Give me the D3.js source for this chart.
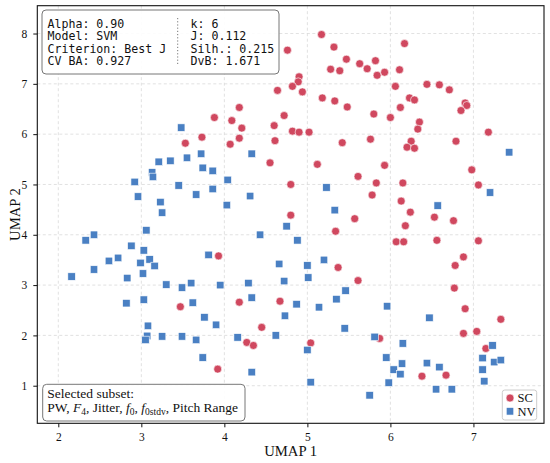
<!DOCTYPE html>
<html>
<head>
<meta charset="utf-8">
<script src="https://cdn.jsdelivr.net/npm/d3@7"></script>
<style>
  html, body { margin: 0; padding: 0; background: #fff; }
  svg { display: block; }
</style>
</head>
<body>
<svg></svg>
<script>
// Chart size and plot area
const width = 550;
const height = 463;
const margin = { top: 5.7, right: 6, bottom: 39.7, left: 37.3 };

// Data
const scPoints = [
  [3.53, 5.82], [3.73, 5.94], [3.88, 6.33], [3.47, 2.57], [5.17, 7.98], [5.32, 7.73],
  [4.76, 7.67], [5.47, 7.49], [5.63, 7.40], [5.72, 7.30], [5.82, 7.46], [5.28, 7.29],
  [5.39, 7.26], [5.84, 7.17], [4.90, 7.14], [4.89, 7.04], [4.82, 6.95], [4.64, 6.87],
  [4.94, 6.84], [5.18, 6.72], [5.33, 6.66], [5.48, 6.54], [5.80, 6.40], [4.18, 6.53],
  [4.09, 6.27], [4.21, 6.12], [4.72, 6.37], [4.60, 6.17], [4.82, 6.06], [4.90, 6.04],
  [5.02, 6.04], [4.18, 5.92], [4.07, 5.80], [4.61, 5.87], [5.42, 5.83], [5.76, 5.90],
  [4.55, 5.43], [5.12, 5.40], [5.61, 5.16], [5.83, 5.03], [4.80, 5.00], [5.78, 4.79],
  [4.80, 4.39], [5.57, 4.32], [5.34, 4.07], [3.93, 3.58], [5.37, 3.35], [5.61, 3.09],
  [4.18, 2.66], [4.67, 2.68], [4.45, 2.16], [4.27, 1.86], [4.35, 1.80], [5.04, 1.85],
  [3.92, 1.33], [5.87, 1.94], [6.17, 7.80], [5.93, 7.23], [6.11, 7.28], [6.06, 6.95],
  [6.44, 6.99], [6.59, 6.98], [6.71, 6.88], [6.23, 6.72], [6.29, 6.68], [6.12, 6.53],
  [6.00, 6.33], [6.90, 6.62], [6.92, 6.57], [6.85, 6.47], [6.35, 6.24], [6.33, 6.10],
  [7.18, 6.04], [6.25, 5.86], [6.20, 5.74], [6.29, 5.72], [6.79, 5.86], [5.93, 5.38],
  [6.98, 5.29], [6.15, 5.03], [7.06, 4.99], [6.13, 4.67], [6.24, 4.45], [6.53, 4.35],
  [6.76, 4.28], [6.18, 4.18], [6.07, 3.86], [6.16, 3.86], [6.56, 3.89], [7.06, 3.88],
  [6.88, 3.56], [6.78, 3.39], [6.77, 2.94], [6.90, 2.53], [7.33, 2.32], [6.88, 2.04],
  [7.04, 2.08], [7.15, 1.74], [6.38, 1.19], [6.67, 1.21]
];

const nvPoints = [
  [3.48, 6.13], [3.21, 5.45], [3.35, 5.47], [3.55, 5.53], [3.72, 5.61], [3.74, 5.33],
  [3.86, 5.27], [3.13, 5.24], [3.14, 5.15], [2.92, 5.05], [2.96, 4.76], [3.45, 4.98],
  [3.23, 4.65], [3.25, 4.44], [3.66, 4.80], [3.86, 4.91], [3.06, 4.09], [2.43, 4.00],
  [2.33, 3.89], [2.88, 3.78], [3.03, 3.69], [2.72, 3.54], [2.61, 3.48], [3.10, 3.51],
  [3.81, 3.60], [2.16, 3.17], [2.43, 3.31], [2.99, 3.44], [3.16, 3.38], [3.02, 3.23],
  [2.83, 3.14], [3.30, 3.01], [3.49, 2.95], [3.60, 3.04], [2.82, 2.64], [3.03, 2.71],
  [3.62, 2.65], [3.76, 2.36], [3.08, 2.19], [3.07, 1.99], [3.05, 1.91], [3.25, 1.98],
  [3.49, 1.98], [3.66, 1.91], [3.74, 1.56], [4.33, 5.61], [4.04, 5.09], [4.31, 4.77],
  [4.03, 4.59], [5.23, 4.94], [5.33, 4.49], [4.75, 4.17], [4.43, 4.00], [4.88, 3.89],
  [4.66, 3.42], [5.00, 3.39], [5.20, 3.50], [5.01, 3.15], [4.72, 3.08], [4.29, 3.04],
  [3.95, 3.00], [4.33, 2.75], [5.46, 2.89], [5.35, 2.72], [5.14, 2.56], [4.87, 2.62],
  [4.73, 2.39], [3.90, 2.21], [4.62, 2.00], [4.16, 1.96], [5.45, 2.14], [5.81, 1.97],
  [5.00, 1.71], [4.33, 1.27], [5.04, 1.07], [5.75, 0.81], [7.43, 5.64], [7.20, 4.84],
  [6.57, 4.58], [5.96, 2.58], [6.47, 2.35], [6.15, 1.84], [5.95, 1.56], [6.14, 1.44],
  [6.04, 1.32], [6.12, 1.23], [6.44, 1.45], [6.59, 1.37], [5.98, 1.06], [6.55, 0.93],
  [6.74, 0.93], [7.11, 1.55], [7.23, 1.80], [7.25, 1.47], [7.33, 1.51], [7.11, 1.32],
  [7.13, 1.09]
];

const xTicks = [2, 3, 4, 5, 6, 7];
const yTicks = [1, 2, 3, 4, 5, 6, 7, 8];
const infoLeft = ["Alpha: 0.90", "Model: SVM", "Criterion: Best J", "CV BA: 0.927"];
const infoRight = ["k: 6", "J: 0.112", "Silh.: 0.215", "DvB: 1.671"];
const legendItems = ["SC", "NV"];

const scColor = "#d0485f";
const nvColor = "#4a80c3";
const serif = "'Liberation Serif', 'DejaVu Serif', serif";
const mono = "'DejaVu Sans Mono', 'Liberation Mono', monospace";

const svg = d3.select("svg").attr("width", width).attr("height", height);

const plotW = width - margin.left - margin.right;
const plotH = height - margin.top - margin.bottom;

const x = d3.scaleLinear().domain([1.747, 7.85]).range([margin.left, margin.left + plotW]);
const y = d3.scaleLinear().domain([0.253, 8.553]).range([margin.top + plotH, margin.top]);

// Grid lines
const grid = svg.append("g").attr("class", "grid");
grid.selectAll("line.gx")
  .data(xTicks)
  .enter()
  .append("line")
  .attr("x1", (d) => x(d))
  .attr("x2", (d) => x(d))
  .attr("y1", margin.top)
  .attr("y2", margin.top + plotH);
grid.selectAll("line.gy")
  .data(yTicks)
  .enter()
  .append("line")
  .attr("x1", margin.left)
  .attr("x2", margin.left + plotW)
  .attr("y1", (d) => y(d))
  .attr("y2", (d) => y(d));
grid.selectAll("line")
  .attr("stroke", "#d9d9d9")
  .attr("stroke-width", 0.8)
  .attr("stroke-dasharray", "3,2.5");

// Axes
const xAxis = svg.append("g")
  .attr("transform", `translate(0, ${margin.top + plotH})`)
  .call(d3.axisBottom(x).tickValues(xTicks).tickFormat(d3.format("d")).tickSize(4).tickPadding(6));
const yAxis = svg.append("g")
  .attr("transform", `translate(${margin.left}, 0)`)
  .call(d3.axisLeft(y).tickValues(yTicks).tickFormat(d3.format("d")).tickSize(4).tickPadding(6));
[xAxis, yAxis].forEach((ax) => {
  ax.select(".domain").remove();
  ax.selectAll("text")
    .style("font-family", serif)
    .style("font-size", "11.5px")
    .attr("fill", "#111");
  ax.selectAll("line").attr("stroke", "#111");
});

// Points: SC circles first, then NV squares
const sq = 7.5;
const rad = 4;
svg.append("g")
  .selectAll("circle")
  .data(scPoints)
  .enter()
  .append("circle")
  .attr("cx", (d) => x(d[0]))
  .attr("cy", (d) => y(d[1]))
  .attr("r", rad)
  .attr("fill", scColor)
  .attr("stroke", "#fff")
  .attr("stroke-width", 0.6);

svg.append("g")
  .selectAll("rect")
  .data(nvPoints)
  .enter()
  .append("rect")
  .attr("x", (d) => x(d[0]) - sq / 2)
  .attr("y", (d) => y(d[1]) - sq / 2)
  .attr("width", sq)
  .attr("height", sq)
  .attr("fill", nvColor)
  .attr("stroke", "#fff")
  .attr("stroke-width", 0.6);

// Frame
svg.append("rect")
  .attr("x", margin.left)
  .attr("y", margin.top)
  .attr("width", plotW)
  .attr("height", plotH)
  .attr("fill", "none")
  .attr("stroke", "#111")
  .attr("stroke-width", 1.1);

// Axis titles
svg.append("text")
  .attr("x", margin.left + plotW / 2)
  .attr("y", 456)
  .attr("text-anchor", "middle")
  .style("font-family", serif)
  .style("font-size", "14.7px")
  .attr("fill", "#111")
  .text("UMAP 1");
svg.append("text")
  .attr("transform", `translate(19.5, ${margin.top + plotH / 2}) rotate(-90)`)
  .attr("text-anchor", "middle")
  .style("font-family", serif)
  .style("font-size", "14.7px")
  .attr("fill", "#111")
  .text("UMAP 2");

// Info box (top left)
svg.append("rect")
  .attr("x", 42)
  .attr("y", 10)
  .attr("width", 237)
  .attr("height", 64)
  .attr("rx", 4)
  .attr("fill", "#fff")
  .attr("fill-opacity", 0.9)
  .attr("stroke", "#777")
  .attr("stroke-width", 1);
svg.append("line")
  .attr("x1", 177.7)
  .attr("x2", 177.7)
  .attr("y1", 18)
  .attr("y2", 66)
  .attr("stroke", "#777")
  .attr("stroke-width", 1)
  .attr("stroke-dasharray", "1.2,2");
const info = svg.append("g")
  .style("font-family", mono)
  .style("font-size", "11.6px")
  .attr("fill", "#111");
info.selectAll("text.l")
  .data(infoLeft)
  .enter()
  .append("text")
  .attr("x", 47.5)
  .attr("y", (d, i) => 27.5 + i * 12.5)
  .text((d) => d);
info.selectAll("text.r")
  .data(infoRight)
  .enter()
  .append("text")
  .attr("x", 190.5)
  .attr("y", (d, i) => 27.5 + i * 12.5)
  .text((d) => d);

// Selected subset box (bottom left)
svg.append("rect")
  .attr("x", 42.7)
  .attr("y", 384.3)
  .attr("width", 202.3)
  .attr("height", 36.7)
  .attr("rx", 4)
  .attr("fill", "#fff")
  .attr("fill-opacity", 0.9)
  .attr("stroke", "#777")
  .attr("stroke-width", 1);
const sub = svg.append("g")
  .style("font-family", serif)
  .style("font-size", "13.5px")
  .attr("fill", "#111");
sub.append("text").attr("x", 47.3).attr("y", 398.3).text("Selected subset:");
const line2 = sub.append("text").attr("x", 47.3).attr("y", 412);
const pieces = [
  { t: "PW, " },
  { t: "F", it: true },
  { t: "4", s: true },
  { t: ", Jitter, " },
  { t: "f", it: true },
  { t: "0", s: true },
  { t: ", " },
  { t: "f", it: true },
  { t: "0stdv", s: true },
  { t: ", Pitch Range" },
];
let low = false;
pieces.forEach((p) => {
  const ts = line2.append("tspan").text(p.t);
  if (p.it) ts.style("font-style", "italic");
  if (p.s && !low) {
    ts.attr("dy", 2.5).style("font-size", "9.5px");
    low = true;
  } else if (!p.s && low) {
    ts.attr("dy", -2.5);
    low = false;
  }
});

// Legend
svg.append("rect")
  .attr("x", 502.3)
  .attr("y", 390)
  .attr("width", 34.4)
  .attr("height", 30)
  .attr("rx", 2.5)
  .attr("fill", "#fff")
  .attr("fill-opacity", 0.9)
  .attr("stroke", "#ccc")
  .attr("stroke-width", 1);
const leg = svg.append("g")
  .selectAll("g")
  .data(legendItems)
  .enter()
  .append("g")
  .attr("transform", (d, i) => `translate(510, ${398 + i * 13.3})`);
leg.filter((d) => d === "SC")
  .append("circle")
  .attr("r", rad)
  .attr("fill", scColor)
  .attr("stroke", "#fff")
  .attr("stroke-width", 0.6);
leg.filter((d) => d === "NV")
  .append("rect")
  .attr("x", -sq / 2)
  .attr("y", -sq / 2)
  .attr("width", sq)
  .attr("height", sq)
  .attr("fill", nvColor)
  .attr("stroke", "#fff")
  .attr("stroke-width", 0.6);
leg.append("text")
  .attr("x", 7.5)
  .attr("y", 4.3)
  .style("font-family", serif)
  .style("font-size", "12.5px")
  .attr("fill", "#111")
  .text((d) => d);
</script>
</body>
</html>
